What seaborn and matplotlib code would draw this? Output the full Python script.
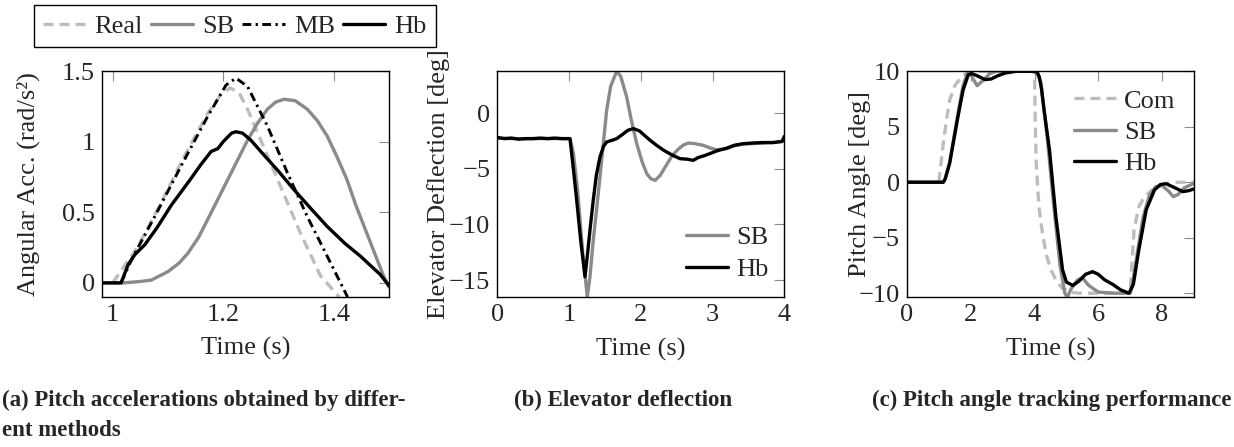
"""
    pitch acceleration / elevator deflection / pitch angle tracking, 3 panels
"""
import matplotlib
matplotlib.use('Agg')
import matplotlib.pyplot as plt
import matplotlib.ticker as mticker
import numpy as np
import pandas as pd
import seaborn as sns

## (a) pitch acceleration (rad/s^2)
t_real = [1.0, 1.046, 1.088, 1.13, 1.172, 1.195, 1.212, 1.228, 1.245, 1.268, 1.304, 1.34, 1.376, 1.41]
acc_real = [0.0, 0.26, 0.57, 0.9, 1.2, 1.33, 1.38, 1.35, 1.22, 1.01, 0.68, 0.35, 0.05, -0.1]

t_mb = [1.015, 1.034, 1.076, 1.124, 1.172, 1.205, 1.223, 1.244, 1.28, 1.316, 1.352, 1.388, 1.425]
acc_mb = [0.0, 0.165, 0.47, 0.83, 1.18, 1.40, 1.45, 1.39, 1.11, 0.78, 0.47, 0.19, -0.1]

t_sb_a = [0.98, 1.02, 1.05, 1.07, 1.085, 1.1, 1.12, 1.136, 1.155, 1.172, 1.19, 1.208, 1.226,
          1.244, 1.262, 1.28, 1.295, 1.31, 1.33, 1.352, 1.37, 1.388, 1.405, 1.424, 1.44,
          1.46, 1.475, 1.49, 1.5]
acc_sb = [0.0, 0.0, 0.01, 0.02, 0.05, 0.08, 0.14, 0.21, 0.32, 0.45, 0.59, 0.73, 0.87,
          1.01, 1.13, 1.23, 1.28, 1.30, 1.29, 1.23, 1.15, 1.04, 0.90, 0.73, 0.55,
          0.35, 0.2, 0.05, -0.03]

t_hb_a = [0.98, 1.015, 1.028, 1.04, 1.058, 1.08, 1.106, 1.14, 1.16, 1.178, 1.19, 1.2, 1.215,
          1.223, 1.235, 1.25, 1.268, 1.3, 1.328, 1.36, 1.388, 1.42, 1.448, 1.47, 1.484, 1.5]
acc_hb = [0.0, 0.0, 0.13, 0.2, 0.27, 0.39, 0.55, 0.73, 0.84, 0.93, 0.95, 1.0, 1.06,
          1.07, 1.06, 1.01, 0.93, 0.79, 0.66, 0.52, 0.40, 0.28, 0.19, 0.11, 0.06, -0.02]

## (b) elevator deflection (deg)
t_hb_b = [0, 0.1, 0.2, 0.3, 0.4, 0.5, 0.6, 0.7, 0.8, 0.9, 1.013, 1.06, 1.106, 1.16, 1.222,
          1.26, 1.3, 1.338, 1.38, 1.431, 1.48, 1.524, 1.6, 1.664, 1.75, 1.82, 1.896, 1.98,
          2.05, 2.13, 2.22, 2.32, 2.43, 2.546, 2.65, 2.73, 2.8, 2.9, 3.06, 3.2, 3.3, 3.43,
          3.55, 3.7, 3.85, 3.97, 4.0]
defl_hb = [-2.2, -2.3, -2.25, -2.35, -2.3, -2.3, -2.25, -2.3, -2.25, -2.3, -2.3, -5.0, -7.8,
           -11.3, -14.7, -12.5, -10.0, -7.8, -5.6, -3.95, -3.0, -2.6, -2.45, -2.3, -1.9,
           -1.55, -1.4, -1.6, -2.0, -2.45, -2.9, -3.35, -3.75, -4.1, -4.15, -4.25, -4.0,
           -3.8, -3.4, -3.15, -2.9, -2.75, -2.7, -2.65, -2.65, -2.55, -2.1]

t_sb_b = [0, 0.2, 0.4, 0.6, 0.8, 1.013, 1.06, 1.12, 1.19, 1.254, 1.29, 1.338, 1.385, 1.431,
          1.48, 1.524, 1.58, 1.664, 1.72, 1.803, 1.87, 1.943, 2.02, 2.083, 2.14, 2.2, 2.27,
          2.34, 2.44, 2.53, 2.6, 2.66, 2.75, 2.87, 2.97, 3.06, 3.2, 3.3, 3.43, 3.55, 3.7,
          3.85, 3.97, 4.0]
defl_sb = [-2.25, -2.3, -2.3, -2.3, -2.3, -2.3, -3.6, -7.0, -12.5, -16.5, -14.8, -11.4, -8.6,
           -5.75, -2.6, 0.24, 2.4, 3.75, 3.3, 1.44, -0.7, -2.75, -4.4, -5.45, -5.9, -6.05,
           -5.6, -4.85, -3.8, -3.2, -2.85, -2.7, -2.75, -2.9, -3.15, -3.3, -3.2, -2.95,
           -2.8, -2.75, -2.7, -2.65, -2.55, -2.2]

## (c) pitch angle (deg)
t_com = [0, 1.0, 1.06, 1.14, 1.25, 1.34, 1.5, 1.76, 2.1, 4.0, 4.02, 4.05, 4.1, 4.15, 4.25,
         4.36, 4.5, 4.67, 4.85, 5.1, 5.4, 7.0, 7.04, 7.12, 7.27, 7.45, 7.69, 8.1, 8.5, 9.0]
ang_com = [0, 0, 1.5, 3.5, 5.8, 7.4, 8.7, 9.66, 10, 10, 6.0, 2.0, -0.5, -2.5, -4.6,
           -6.4, -7.8, -8.8, -9.5, -9.9, -10, -10, -8.0, -4.3, -2.2, -1.3, -0.7, -0.1, 0, 0]

t_sb_c = [0, 1.14, 1.2, 1.34, 1.6, 1.76, 1.9, 2.0, 2.2, 2.4, 2.6, 2.8, 4.0, 4.1, 4.2, 4.4,
          4.6, 4.8, 4.95, 5.03, 5.15, 5.35, 5.5, 5.7, 6.0, 6.5, 7.0, 7.05, 7.2, 7.4, 7.6,
          7.8, 8.0, 8.2, 8.35, 8.5, 8.7, 9.0]
ang_sb = [0, 0, 0.3, 1.8, 6.2, 8.7, 9.9, 9.7, 8.7, 9.2, 9.8, 10, 10, 9.7, 9.0, 4.0,
          -2.0, -7.5, -10.0, -10.37, -9.6, -8.8, -8.6, -9.3, -9.9, -10, -10, -9.5, -6.8,
          -3.2, -1.2, -0.4, -0.3, -0.8, -1.3, -1.1, -0.5, -0.1]

t_hb_c = [0, 1.14, 1.2, 1.34, 1.47, 1.6, 1.76, 1.92, 2.02, 2.2, 2.45, 2.64, 2.85, 3.1, 3.43,
          3.9, 4.08, 4.15, 4.22, 4.3, 4.47, 4.67, 4.88, 5.0, 5.2, 5.4, 5.6, 5.82, 6.0, 6.2,
          6.45, 6.7, 6.96, 7.1, 7.27, 7.5, 7.76, 7.95, 8.13, 8.4, 8.65, 8.85, 9.0]
ang_hb = [0, 0, 0.3, 1.7, 3.8, 5.9, 8.3, 9.66, 9.8, 9.6, 9.25, 9.3, 9.6, 9.85, 10,
          10, 9.95, 9.5, 8.4, 6.5, 2.9, -3.1, -7.9, -9.0, -9.3, -8.9, -8.3, -8.06, -8.3,
          -8.8, -9.2, -9.7, -10, -9.2, -6.1, -2.5, -0.7, -0.2, -0.14, -0.5, -0.85, -0.75, -0.6]

captions = ['(a) Pitch accelerations obtained by differ-', 'ent methods',
            '(b) Elevator deflection',
            '(c) Pitch angle tracking performance']

c_light = '#bdbdbd'
c_mid = '#8a8a8a'
c_dark = 'black'
lw = 2.4
fs = 19
fs_cap = 16.5


def draw(ax, t, v, **kw):
    sns.lineplot(x=t, y=v, ax=ax, estimator=None, sort=False, **kw)


def fmt(v, p):
    return ('%g' % v).replace('-', '\u2212')


def style_axes(ax):
    ax.tick_params(direction='in', top=True, right=True, length=7, width=0.8,
                   color='0.55', labelsize=fs, pad=5)
    for s in ax.spines.values():
        s.set_color('black')
        s.set_linewidth(1.0)
    ax.xaxis.set_major_formatter(mticker.FuncFormatter(fmt))
    ax.yaxis.set_major_formatter(mticker.FuncFormatter(fmt))
    ax.set_xlabel('Time (s)', fontsize=fs)
    ax.xaxis.set_label_coords(0.5, -0.177)


sns.set_theme(style='white')
plt.rcParams['font.family'] = ['Liberation Serif', 'DejaVu Serif']
plt.rcParams['axes.unicode_minus'] = True

fig = plt.figure(figsize=(12.34, 4.47), dpi=100)
W, H = 1234, 447
ax_a = fig.add_axes([101.7 / W, 1 - 297 / H, 287.3 / W, 226 / H])
ax_b = fig.add_axes([497.3 / W, 1 - 297.3 / H, 287 / W, 226.6 / H])
ax_c = fig.add_axes([906.9 / W, 1 - 297.3 / H, 287.1 / W, 226.6 / H])

dash = (0, (3, 1.8))

## panel a
draw(ax_a, t_real, acc_real, color=c_light, linewidth=lw, linestyle=dash, label='Real')
draw(ax_a, t_sb_a, acc_sb, color=c_mid, linewidth=lw, label='SB')
draw(ax_a, t_mb, acc_mb, color=c_dark, linewidth=2.1, linestyle=(0, (3, 1.5, 0.8, 1.5)), label='MB')
draw(ax_a, t_hb_a, acc_hb, color=c_dark, linewidth=lw, label='Hb')
ax_a.set_xlim(0.98, 1.5)
ax_a.set_ylim(-0.1, 1.5)
ax_a.set_xticks([1, 1.2, 1.4])
ax_a.set_yticks([0, 0.5, 1, 1.5])
style_axes(ax_a)
ax_a.set_ylabel('Angular Acc. (rad/s²)', fontsize=fs)
ax_a.yaxis.set_label_coords(-0.215, 0.5)
h, l = ax_a.get_legend_handles_labels()
if ax_a.get_legend():
    ax_a.get_legend().remove()
leg = fig.legend(h, l, ncol=4, loc='lower left', bbox_to_anchor=(34 / W, 1 - 47 / H),
                 fontsize=fs, frameon=True, fancybox=False, edgecolor='black', framealpha=1,
                 handlelength=1.6, handletextpad=0.35, columnspacing=0.3, borderpad=0.35,
                 borderaxespad=0)
leg.get_frame().set_linewidth(1.0)

## panel b
draw(ax_b, t_sb_b, defl_sb, color=c_mid, linewidth=lw, label='SB')
draw(ax_b, t_hb_b, defl_hb, color=c_dark, linewidth=lw, label='Hb')
ax_b.set_xlim(0, 4)
ax_b.set_ylim(-16.55, 3.8)
ax_b.set_xticks([0, 1, 2, 3, 4])
ax_b.set_yticks([-15, -10, -5, 0])
style_axes(ax_b)
ax_b.set_ylabel('Elevator Deflection [deg]', fontsize=fs)
ax_b.yaxis.set_label_coords(-0.165, 0.5)
ax_b.legend(loc='lower right', frameon=False, fontsize=fs, handlelength=1.6,
            handletextpad=0.3, labelspacing=0.35, borderaxespad=0.2)

## panel c
draw(ax_c, t_com, ang_com, color=c_light, linewidth=lw, linestyle=dash, label='Com')
draw(ax_c, t_sb_c, ang_sb, color=c_mid, linewidth=lw, label='SB')
draw(ax_c, t_hb_c, ang_hb, color=c_dark, linewidth=lw, label='Hb')
ax_c.set_xlim(0, 9)
ax_c.set_ylim(-10.37, 10.05)
ax_c.set_xticks([0, 2, 4, 6, 8])
ax_c.set_yticks([-10, -5, 0, 5, 10])
style_axes(ax_c)
ax_c.set_ylabel('Pitch Angle [deg]', fontsize=fs)
ax_c.yaxis.set_label_coords(-0.126, 0.5)
ax_c.legend(loc='upper right', frameon=False, fontsize=fs, handlelength=1.6,
            handletextpad=0.3, labelspacing=0.3, borderaxespad=0.3)

## captions
fig.text(2 / W, 1 - 406 / H, captions[0], fontsize=fs_cap, fontweight='bold', va='baseline',
         ha='left')
fig.text(2 / W, 1 - 436 / H, captions[1], fontsize=fs_cap, fontweight='bold', va='baseline',
         ha='left')
fig.text(623 / W, 1 - 406 / H, captions[2], fontsize=fs_cap, fontweight='bold', va='baseline',
         ha='center')
fig.text(1232 / W, 1 - 406 / H, captions[3], fontsize=fs_cap, fontweight='bold', va='baseline',
         ha='right')

fig.savefig('out.png', dpi=100)
